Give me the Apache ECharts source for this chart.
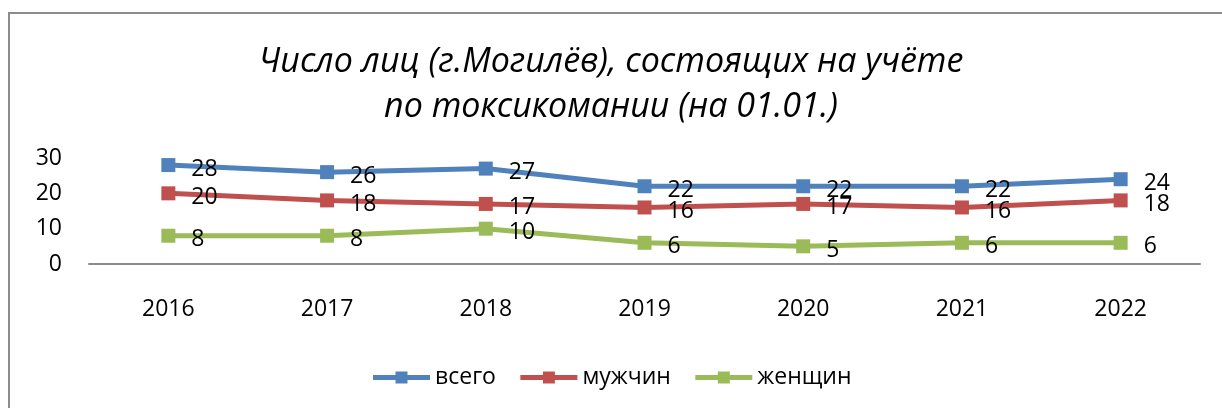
<!DOCTYPE html>
<html>
<head>
<meta charset="utf-8">
<script src="https://cdn.jsdelivr.net/npm/echarts@6/dist/echarts.min.js"></script>
<style>
  html, body { margin: 0; padding: 0; background: #fff; }
  #main { width: 1222px; height: 408px; }
</style>
</head>
<body>
<div id="main"></div>
<script>
// данные
var years = ['2016', '2017', '2018', '2019', '2020', '2021', '2022'];
var vsego = [28, 26, 27, 22, 22, 22, 24];
var muzhchin = [20, 18, 17, 16, 17, 16, 18];
var zhenshchin = [8, 8, 10, 6, 5, 6, 6];
var yTicks = [0, 10, 20, 30];

var font = '"Open Sans", "Noto Sans", sans-serif';

var myChart = echarts.init(document.getElementById('main'));

function makeSeries(name, data, color) {
    return {
        name: name,
        type: 'line',
        data: data,
        symbol: 'rect',
        symbolSize: 14,
        lineStyle: { width: 5, color: color },
        itemStyle: { color: color },
        label: {
            show: true,
            position: 'right',
            distance: 16,
            offset: [0, 4],
            color: '#000',
            fontFamily: font,
            fontSize: 23
        },
        emphasis: { disabled: true }
    };
}

var option = {
    backgroundColor: '#fff',
    animation: false,
    graphic: [{
        type: 'rect',
        shape: { x: 9, y: 13, width: 1400, height: 600 },
        style: { fill: 'none', stroke: '#8c8c8c', lineWidth: 2 },
        silent: true
    }],
    title: {
        text: 'Число лиц (г.Могилёв), состоящих на учёте\nпо токсикомании (на 01.01.)',
        left: 'center',
        top: 40,
        padding: [0, 0, 0, 18],
        textStyle: {
            fontFamily: font,
            fontStyle: 'italic',
            fontWeight: 'normal',
            fontSize: 34,
            lineHeight: 45,
            color: '#000'
        }
    },
    legend: {
        bottom: 14,
        left: 'center',
        itemWidth: 57,
        itemHeight: 15,
        itemGap: 22,
        lineStyle: { width: 5 },
        textStyle: { fontFamily: font, fontSize: 23, color: '#000' },
        data: ['всего', 'мужчин', 'женщин']
    },
    grid: { left: 89, right: 22, top: 158, bottom: 144 },
    xAxis: {
        type: 'category',
        data: years,
        axisLine: { lineStyle: { color: '#8c8c8c', width: 2 } },
        axisTick: { show: false },
        axisLabel: { margin: 34, color: '#000', fontFamily: font, fontSize: 23 }
    },
    yAxis: {
        type: 'value',
        min: yTicks[0],
        max: yTicks[yTicks.length - 1],
        interval: 10,
        axisLine: { show: false },
        axisTick: { show: false },
        splitLine: { show: false },
        axisLabel: {
            margin: 27, color: '#000', fontFamily: font, fontSize: 23,
            verticalAlign: 'middle', lineHeight: 23, padding: [10, 0, 0, 0]
        }
    },
    series: [
        makeSeries('всего', vsego, '#4f81bd'),
        makeSeries('мужчин', muzhchin, '#c0504d'),
        makeSeries('женщин', zhenshchin, '#9bbb59')
    ]
};

myChart.setOption(option);
</script>
</body>
</html>
